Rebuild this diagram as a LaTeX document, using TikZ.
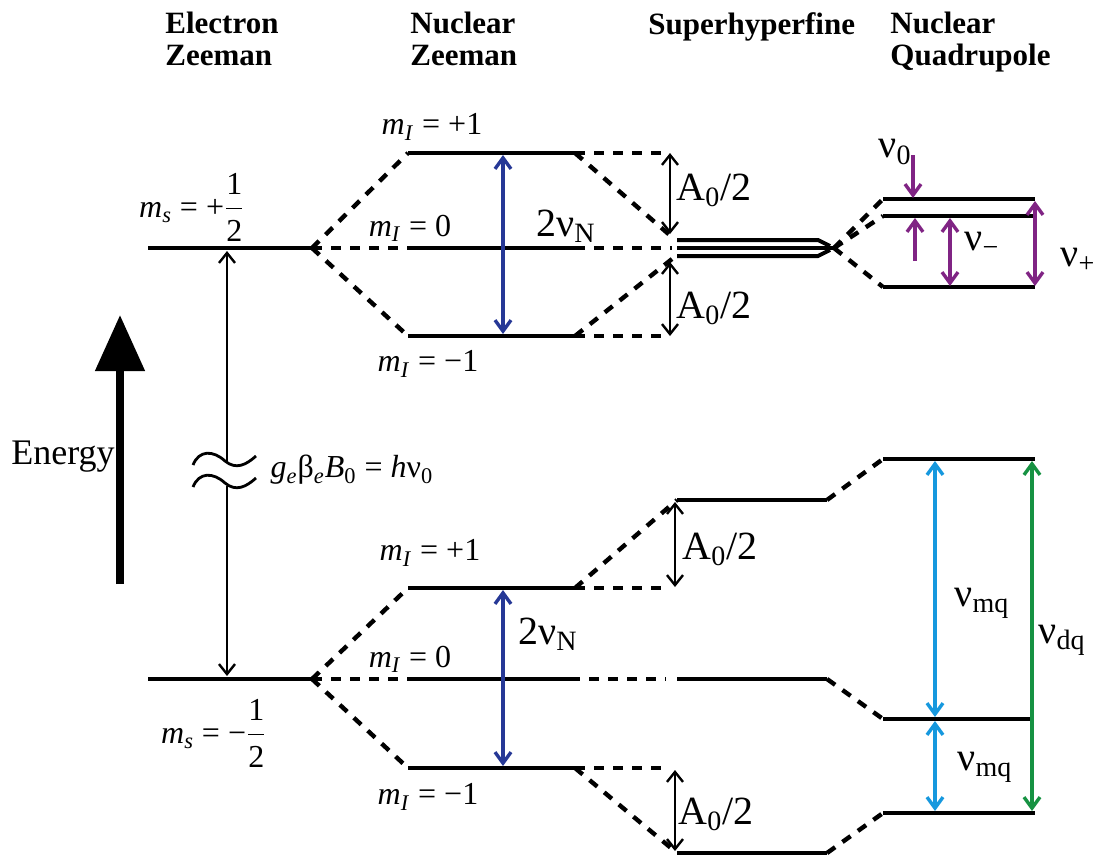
\documentclass[tikz,border=0pt]{standalone}
\usepackage{fontspec}
\setmainfont{Liberation Serif}
\usetikzlibrary{arrows.meta}
\definecolor{Blu}{RGB}{38,56,150}
\definecolor{Pur}{RGB}{128,36,132}
\definecolor{Cya}{RGB}{22,152,222}
\definecolor{Grn}{RGB}{22,146,66}
\newcommand{\mI}{\textit{m}\textsubscript{\textit{I}}}
\newcommand{\nusub}[1]{ν\textsubscript{#1}}

\begin{document}
\begin{tikzpicture}[x=0.5pt,y=-0.5pt,
 lv/.style={line width=2.4pt},
 dsh/.style={line width=2.2pt,dash pattern=on 5pt off 4.5pt},
 ar/.style={{Straight Barb[length=5pt,width=8pt]}-{Straight Barb[length=5pt,width=8pt]},line width=1.2pt},
 car/.style={{Straight Barb[length=5.5pt,width=8pt]}-{Straight Barb[length=5.5pt,width=8pt]},line width=1.7pt},
 hd/.style={font=\fontsize{15.5}{16}\selectfont\bfseries,align=left,anchor=north west,inner sep=0pt},
 lb/.style={font=\fontsize{16}{18}\selectfont,inner sep=0pt},
 gl/.style={font=\fontsize{20}{22}\selectfont,inner sep=0pt}]
\useasboundingbox (0,0) rectangle (1099,858);

% column headers
\node[hd] (h1) at (165,12) {Electron\\Zeeman};
\node[hd] (h2) at (410,12) {Nuclear\\Zeeman};
\node[hd] (h3) at (648,12) {Superhyperfine};
\node[hd] (h4) at (890,12) {Nuclear\\Quadrupole};

% energy axis
\coordinate (en1) at (120,584); \coordinate (en2) at (120,315);
\draw[-{Triangle[length=28pt,width=24pt]},line width=4pt] (en1)--(en2);
\node[font=\fontsize{18}{20}\selectfont,inner sep=0pt] (en) at (63,457) {Energy};

% electron Zeeman levels
\coordinate (eu1) at (148,248); \coordinate (eu2) at (312,248);
\coordinate (ed1) at (148,679); \coordinate (ed2) at (312,679);
\draw[lv] (eu1)--(eu2); \draw[lv] (ed1)--(ed2);
\node[lb] (msu) at (192,207) {\textit{m}\textsubscript{\textit{s}} = +$\displaystyle\frac{\mbox{1}}{\mbox{2}}$};
\node[lb] (msd) at (214,733) {\textit{m}\textsubscript{\textit{s}} = −$\displaystyle\frac{\mbox{1}}{\mbox{2}}$};

% broken transition g beta B = h nu
\coordinate (g1) at (227,251); \coordinate (g2) at (227,462);
\coordinate (g3) at (227,486); \coordinate (g4) at (227,676);
\draw[line width=1.2pt,{Straight Barb[length=5pt,width=8pt]}-] (g1)--(g2);
\draw[line width=1.2pt,-{Straight Barb[length=5pt,width=8pt]}] (g3)--(g4);
\draw[line width=1.4pt] (193,465) .. controls (199,450) and (213,450) .. (225,461) .. controls (236,470) and (246,465) .. (256,456);
\draw[line width=1.4pt] (193,487) .. controls (199,472) and (213,472) .. (225,483) .. controls (236,492) and (246,487) .. (256,478);
\node[font=\fontsize{16}{18}\selectfont,inner sep=0pt] (ge) at (352,470) {\textit{g}\textsubscript{\textit{e}}β\textsubscript{\textit{e}}\textit{B}\textsubscript{0} = \textit{h}\nusub{0}};

% nuclear Zeeman, upper manifold
\coordinate (a1) at (408,153); \coordinate (a1r) at (575,153);
\coordinate (a0) at (408,248); \coordinate (a0r) at (575,248);
\coordinate (am) at (408,336); \coordinate (amr) at (575,336);
\draw[lv] (a1)--(a1r); \draw[lv] (a0)--(a0r); \draw[lv] (am)--(amr);
\draw[dsh] (eu2)--(a1); \draw[dsh] (eu2)--(a0); \draw[dsh] (eu2)--(am);
\node[lb] (ia1) at (432,127) {\mI{} = +1};
\node[lb] (ia0) at (410,228) {\mI{} = 0};
\node[lb] (iam) at (428,364) {\mI{} = −1};
\coordinate (na1) at (503,155); \coordinate (na2) at (503,334);
\draw[car,Blu] (na1)--(na2);
\node[gl] (nn1) at (566,226) {2\nusub{N}};

% superhyperfine, upper manifold
\coordinate (s1) at (664,153); \coordinate (t1) at (672,237);
\coordinate (s0) at (672,248);
\coordinate (s3) at (664,336); \coordinate (t3) at (672,259);
\draw[dsh] (a1r)--(s1); \draw[dsh] (a1r)--(t1);
\draw[dsh] (a0r)--(s0);
\draw[dsh] (amr)--(s3); \draw[dsh] (amr)--(t3);
\coordinate (k1) at (670,153); \coordinate (k2) at (670,234);
\coordinate (k3) at (670,262); \coordinate (k4) at (670,336);
\draw[ar] (k1)--(k2); \draw[ar] (k3)--(k4);
\node[gl] (A1) at (714,190) {A\textsubscript{0}/2};
\node[gl] (A2) at (714,308) {A\textsubscript{0}/2};
\coordinate (p1) at (677,240); \coordinate (p2) at (677,248); \coordinate (p3) at (677,256);
\coordinate (pt) at (834,248);
\draw[line width=2pt] (p1)--(818,240)--(830,246);
\draw[line width=2pt] (p2)--(pt);
\draw[line width=2pt] (p3)--(818,256)--(830,250);

% nuclear quadrupole, upper manifold
\coordinate (q1) at (883,199); \coordinate (q1r) at (1035,199);
\coordinate (q2) at (883,216); \coordinate (q2r) at (1035,216);
\coordinate (q3) at (883,287); \coordinate (q3r) at (1035,287);
\draw[lv] (q1)--(q1r); \draw[lv] (q2)--(q2r); \draw[lv] (q3)--(q3r);
\draw[dsh] (pt)--(q1); \draw[dsh] (pt)--(q2); \draw[dsh] (pt)--(q3);
\coordinate (v1) at (913,155); \coordinate (v2) at (913,198);
\coordinate (v3) at (915,261); \coordinate (v4) at (915,218);
\draw[Pur,line width=1.7pt,-{Straight Barb[length=5.5pt,width=8pt]}] (v1)--(v2);
\draw[Pur,line width=1.7pt,-{Straight Barb[length=5.5pt,width=8pt]}] (v3)--(v4);
\coordinate (w1) at (950,218); \coordinate (w2) at (950,286);
\draw[car,Pur] (w1)--(w2);
\coordinate (x1) at (1035,201); \coordinate (x2) at (1035,286);
\draw[car,Pur] (x1)--(x2);
\node[gl] (nu0) at (895,152) {\nusub{0}};
\node[gl] (num) at (982,244) {\nusub{−}};
\node[gl] (nup) at (1078,260) {\nusub{+}};

% nuclear Zeeman, lower manifold
\coordinate (b1) at (408,588); \coordinate (b1r) at (575,588);
\coordinate (b0) at (408,679); \coordinate (b0r) at (570,679);
\coordinate (bm) at (408,768); \coordinate (bmr) at (575,768);
\draw[lv] (b1)--(b1r); \draw[lv] (b0)--(b0r); \draw[lv] (bm)--(bmr);
\draw[dsh] (ed2)--(b1); \draw[dsh] (ed2)--(b0); \draw[dsh] (ed2)--(bm);
\node[lb] (ib1) at (430,553) {\mI{} = +1};
\node[lb] (ib0) at (410,659) {\mI{} = 0};
\node[lb] (ibm) at (428,797) {\mI{} = −1};
\coordinate (nb1) at (503,590); \coordinate (nb2) at (503,766);
\draw[car,Blu] (nb1)--(nb2);
\node[gl] (nn2) at (548,634) {2\nusub{N}};

% superhyperfine, lower manifold
\coordinate (c1) at (677,500); \coordinate (c1r) at (827,500);
\coordinate (c0) at (677,679); \coordinate (c0r) at (827,679);
\coordinate (c2) at (677,853); \coordinate (c2r) at (827,853);
\draw[lv] (c1)--(c1r); \draw[lv] (c0)--(c0r); \draw[lv] (c2)--(c2r);
\coordinate (u1) at (664,588); \coordinate (u0) at (666,679); \coordinate (u2) at (664,768);
\draw[dsh] (b1r)--(u1); \draw[dsh] (b1r)--(c1);
\draw[dsh] (b0r)--(u0);
\draw[dsh] (bmr)--(u2); \draw[dsh] (bmr)--(c2);
\coordinate (k5) at (675,502); \coordinate (k6) at (675,587);
\coordinate (k7) at (675,770); \coordinate (k8) at (675,851);
\draw[ar] (k5)--(k6); \draw[ar] (k7)--(k8);
\node[gl] (A3) at (720,549) {A\textsubscript{0}/2};
\node[gl] (A4) at (716,814) {A\textsubscript{0}/2};

% nuclear quadrupole, lower manifold
\coordinate (d1) at (883,459); \coordinate (d1r) at (1035,459);
\coordinate (d0) at (883,719); \coordinate (d0r) at (1032,719);
\coordinate (d2) at (883,813); \coordinate (d2r) at (1035,813);
\draw[lv] (d1)--(d1r); \draw[lv] (d0)--(d0r); \draw[lv] (d2)--(d2r);
\draw[dsh] (c1r)--(d1); \draw[dsh] (c0r)--(d0); \draw[dsh] (c2r)--(d2);
\coordinate (y1) at (935,461); \coordinate (y2) at (935,717);
\coordinate (y3) at (935,721); \coordinate (y4) at (935,811);
\draw[car,Cya] (y1)--(y2); \draw[car,Cya] (y3)--(y4);
\coordinate (z1) at (1032,461); \coordinate (z2) at (1032,811);
\draw[car,Grn] (z1)--(z2);
\node[gl] (mq1) at (982,603) {\nusub{mq}};
\node[gl] (mq2) at (985,767) {\nusub{mq}};
\node[gl] (dq) at (1062,640) {\nusub{dq}};
\end{tikzpicture}
\end{document}
